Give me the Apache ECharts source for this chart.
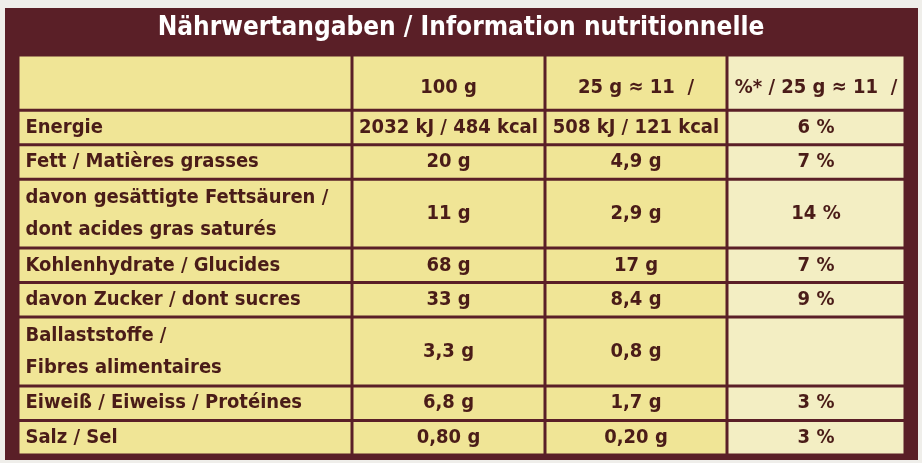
<!DOCTYPE html>
<html><head><meta charset="utf-8">
<script src="https://cdn.jsdelivr.net/npm/echarts@6/dist/echarts.min.js"></script>
<style>html,body{margin:0;padding:0;background:#efeeea}#c{width:922px;height:463px}</style>
</head><body><div id="c"></div>
<script>
const title = 'Nährwertangaben / Information nutritionnelle';
const headers = ['', '100 g', '25 g ≈ 11  /', '%* / 25 g ≈ 11  /'];
const labels = ['Energie', 'Fett / Matières grasses', 'davon gesättigte Fettsäuren /\ndont acides gras saturés', 'Kohlenhydrate / Glucides', 'davon Zucker / dont sucres', 'Ballaststoffe /\nFibres alimentaires', 'Eiweiß / Eiweiss / Protéines', 'Salz / Sel'];
const per100 = ['2032 kJ / 484 kcal', '20 g', '11 g', '68 g', '33 g', '3,3 g', '6,8 g', '0,80 g'];
const perPortion = ['508 kJ / 121 kcal', '4,9 g', '2,9 g', '17 g', '8,4 g', '0,8 g', '1,7 g', '0,20 g'];
const percent = ['6 %', '7 %', '14 %', '7 %', '9 %', '', '3 %', '3 %'];
const colWeights = [334, 193, 182, 178];
const rowWeights = [1.6, 1, 1, 2, 1, 1, 2, 1, 1];

const colEdges = [0]; colWeights.forEach(w => colEdges.push(colEdges[colEdges.length-1] + w));
const rowEdges = [0]; rowWeights.forEach(w => rowEdges.push(rowEdges[rowEdges.length-1] + w));
const rows = [headers].concat(labels.map((l, i) => [l, per100[i], perPortion[i], percent[i]]));
const data = [];
rows.forEach((r, ri) => r.forEach((t, ci) => data.push([ci, ri, t])));
const brown = '#5a1f27', ink = '#4a1c18';
const chart = echarts.init(document.getElementById('c'));
chart.setOption({
  animation: false,
  graphic: [
    {type: 'rect', shape: {x: 5, y: 8, width: 913, height: 452}, style: {fill: brown}, z: -10},
    {type: 'text', left: 'center', top: 15, style: {text: title, fill: '#ffffff', font: 'bold 26px "DejaVu Sans Condensed","Liberation Sans Narrow",sans-serif'}}
  ],
  grid: {left: 18, right: 17, top: 55, bottom: 8},
  xAxis: {type: 'value', min: 0, max: colEdges[colEdges.length-1], show: false},
  yAxis: {type: 'value', min: 0, max: rowEdges[rowEdges.length-1], inverse: true, show: false},
  series: [{
    type: 'custom', data: data,
    renderItem: function (params, api) {
      const c = api.value(0), r = api.value(1), t = data[params.dataIndex][2];
      const p0 = api.coord([colEdges[c], rowEdges[r]]);
      const p1 = api.coord([colEdges[c+1], rowEdges[r+1]]);
      const g = 1.5;
      const x = p0[0] + g, y = p0[1] + g, w = p1[0] - p0[0] - 2*g, h = p1[1] - p0[1] - 2*g;
      const fill = c === 3 ? '#f3eec3' : '#f0e596';
      const left = c === 0;
      const ty = r === 0 ? y + h*0.6 : y + h/2;
      return {type: 'group', children: [
        {type: 'rect', shape: {x, y, width: w, height: h}, style: {fill}},
        {type: 'text', style: {text: t, x: left ? x + 6 : x + w/2, y: ty, align: left ? 'left' : 'center', verticalAlign: 'middle', fill: ink, lineHeight: 32,
          font: 'bold 20px "DejaVu Sans Condensed","Liberation Sans Narrow",sans-serif'}}
      ]};
    }
  }]
});
</script></body></html>
